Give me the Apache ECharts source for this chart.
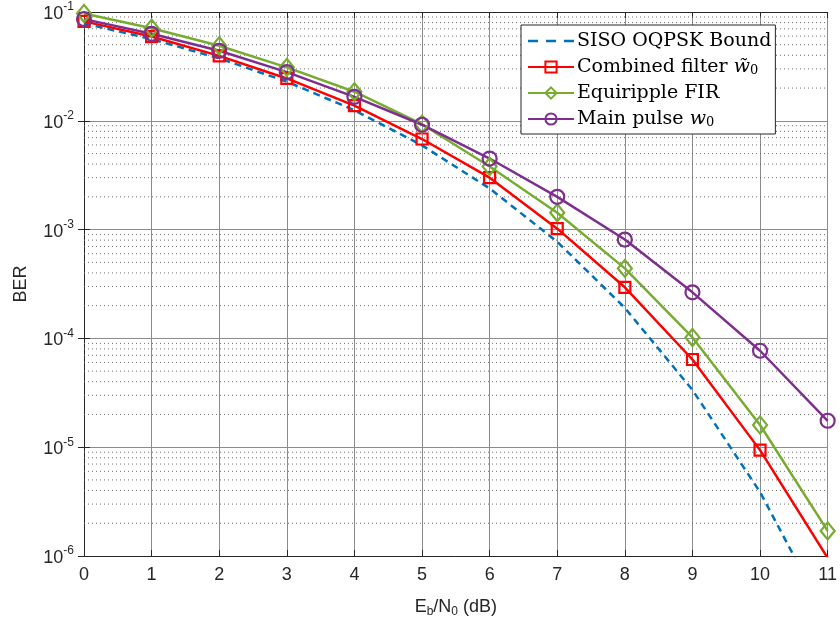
<!DOCTYPE html>
<html>
<head>
<meta charset="utf-8">
<script src="https://cdn.jsdelivr.net/npm/echarts@6/dist/echarts.min.js"></script>
<style>
  html, body { margin: 0; padding: 0; background: #fff; }
  #chart { width: 840px; height: 632px; }
</style>
</head>
<body>
<div id="chart"></div>
<script>
// Eb/N0 (dB)
const snr = [0, 1, 2, 3, 4, 5, 6, 7, 8, 9, 10, 11]
// BER curves
const sisoBound = [0.0786, 0.0563, 0.0375, 0.0229, 0.0125, 0.00595, 0.00239, 7.73e-4, 1.91e-4, 3.36e-5, 3.87e-6, 2.6e-7]
const combinedFilter = [0.082, 0.0595, 0.0395, 0.0245, 0.0138, 0.0068, 0.0030, 0.00102, 2.95e-4, 6.4e-5, 9.4e-6, 9.6e-7]
const equirippleFir = [0.097, 0.071, 0.049, 0.031, 0.0185, 0.0093, 0.0038, 0.00143, 4.4e-4, 1.02e-4, 1.6e-5, 1.7e-6]
const mainPulse = [0.086, 0.063, 0.044, 0.028, 0.0166, 0.0092, 0.0045, 0.0020, 8.1e-4, 2.65e-4, 7.7e-5, 1.75e-5]
// minor log grid lines (2..9 of each decade)
const minorGrid = []
for (let e = -6; e < -1; e++) {
  for (let m = 2; m <= 9; m++) minorGrid.push(m * Math.pow(10, e))
}

const chart = echarts.init(document.getElementById('chart'))

const axisColor = '#262626'
const gridColor = '#8c8c8c'
const sansFont = 'Liberation Sans'
const serifFont = 'DejaVu Serif'

const xy = (arr) => snr.map((x, i) => [x, arr[i]])

const expLabel = (v) => {
  const e = Math.round(Math.log10(v))
  return '{a|10}{b|' + e + '}'
}
const expRich = {
  a: { fontSize: 18, color: axisColor, fontFamily: sansFont, verticalAlign: 'bottom', lineHeight: 22 },
  b: { fontSize: 12, color: axisColor, fontFamily: sansFont, verticalAlign: 'top', lineHeight: 22 }
}

const lineSeries = (name, data, color, symbol, size, dashed) => ({
  name,
  type: 'line',
  data: xy(data),
  symbol,
  symbolSize: size,
  clip: true,
  z: 3,
  lineStyle: { color, width: 2.5, type: dashed ? [7, 5] : 'solid' },
  itemStyle: { color: 'rgba(0,0,0,0)', borderColor: color, borderWidth: 2.2 },
  emphasis: { disabled: true },
  animation: false
})

// dotted minor grid: one flat line per minor value, drawn through the axes
const minorSeries = minorGrid.map(v => ({
  name: 'minor-' + v,
  type: 'line',
  data: [[0, v], [11, v]],
  symbol: 'none',
  silent: true,
  z: 1,
  animation: false,
  lineStyle: { color: '#6e6e6e', width: 1, type: [1, 3] },
  emphasis: { disabled: true }
}))

chart.setOption({
  backgroundColor: '#fff',
  grid: { left: 84, right: 6, top: 12, bottom: 76 },
  legend: {
    data: [
      {
        name: 'SISO OQPSK Bound',
        icon: 'path://M0,0h10v2.5h-10z M18,0h10v2.5h-10z M36,0h10v2.5h-10z',
        itemStyle: { color: '#0072BD', borderWidth: 0 }
      },
      'Combined filter',
      'Equiripple FIR',
      'Main pulse'
    ],
    orient: 'vertical',
    left: 521,
    top: 25,
    backgroundColor: '#fff',
    borderColor: axisColor,
    borderWidth: 1,
    borderRadius: 0,
    padding: [6, 4, 5, 6],
    itemWidth: 46,
    itemHeight: 14,
    itemGap: 6,
    selectedMode: false,
    formatter: (name) => {
      if (name === 'Combined filter') return 'Combined filter {i|w\u0303}{s|0}'
      if (name === 'Main pulse') return 'Main pulse {i|w}{s|0}'
      return name
    },
    textStyle: {
      fontFamily: serifFont,
      fontSize: 19,
      color: '#000',
      lineHeight: 20,
      padding: [0, 0, 0, -2],
      rich: {
        i: { fontFamily: serifFont, fontStyle: 'italic', fontSize: 19, color: '#000', verticalAlign: 'bottom', lineHeight: 20 },
        s: { fontFamily: serifFont, fontSize: 13, color: '#000', verticalAlign: 'bottom', lineHeight: 14 }
      }
    }
  },
  xAxis: [
    {
      type: 'value',
      min: 0,
      max: 11,
      interval: 1,
      name: 'E{s|b}/N{s|0} (dB)',
      nameLocation: 'middle',
      nameGap: 40,
      nameTextStyle: {
        fontFamily: sansFont,
        fontSize: 18,
        color: axisColor,
        rich: { s: { fontFamily: sansFont, fontSize: 12, color: axisColor, verticalAlign: 'top', padding: [10, 0, 0, 0] } }
      },
      axisLine: { lineStyle: { color: axisColor, width: 1 } },
      axisTick: { inside: true, length: 6, lineStyle: { color: axisColor } },
      axisLabel: { fontFamily: sansFont, fontSize: 18, color: axisColor, margin: 10 },
      splitLine: { show: true, lineStyle: { color: gridColor, width: 1 } }
    },
    {
      type: 'value',
      position: 'top',
      min: 0,
      max: 11,
      interval: 1,
      axisLine: { show: true, lineStyle: { color: axisColor, width: 1 } },
      axisTick: { inside: true, length: 6, lineStyle: { color: axisColor } },
      axisLabel: { show: false },
      splitLine: { show: false }
    }
  ],
  yAxis: [
    {
      type: 'log',
      logBase: 10,
      min: 1e-6,
      max: 1e-1,
      name: 'BER',
      nameLocation: 'middle',
      nameGap: 54,
      nameTextStyle: { fontFamily: sansFont, fontSize: 18, color: axisColor },
      axisLine: { show: true, lineStyle: { color: axisColor, width: 1 } },
      axisTick: { inside: true, length: 6, lineStyle: { color: axisColor } },
      axisLabel: { formatter: expLabel, rich: expRich, margin: 10 },
      splitLine: { show: true, lineStyle: { color: gridColor, width: 1 } }
    },
    {
      type: 'log',
      logBase: 10,
      min: 1e-6,
      max: 1e-1,
      position: 'right',
      axisLine: { show: true, lineStyle: { color: axisColor, width: 1 } },
      axisTick: { inside: true, length: 6, lineStyle: { color: axisColor } },
      axisLabel: { show: false },
      splitLine: { show: false }
    }
  ],
  series: [
    ...minorSeries,
    lineSeries('SISO OQPSK Bound', sisoBound, '#0072BD', 'none', 0, true),
    lineSeries('Combined filter', combinedFilter, '#FF0000', 'rect', 11, false),
    lineSeries('Equiripple FIR', equirippleFir, '#77AC30', 'diamond', [14, 17], false),
    lineSeries('Main pulse', mainPulse, '#7E2F8E', 'circle', 14, false)
  ]
})
</script>
</body>
</html>
